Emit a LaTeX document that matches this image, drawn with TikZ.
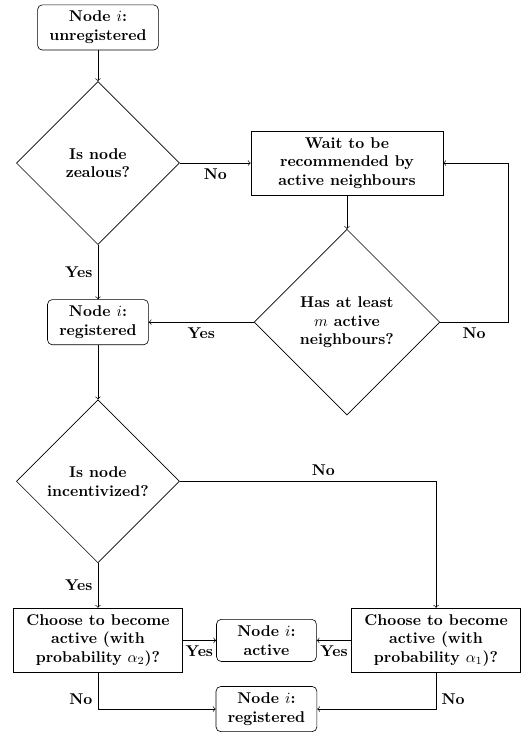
\documentclass[tikz,border=0pt]{standalone}
\usepackage{amsfonts,amsmath,amssymb}
\usetikzlibrary{arrows,shapes}

\begin{document}
\begin{tikzpicture}[node distance=102pt,font=\bfseries]

	\tikzstyle{status}=[rectangle,rounded corners=3pt,draw=black,align=center,minimum width=64pt,inner xsep=7.5pt,inner ysep=4pt]
	\tikzstyle{block}=[rectangle,draw=black,align=center,inner ysep=4pt]
	\tikzstyle{decision}=[diamond,draw=black,align=center,minimum width=104.5pt,minimum height=104.5pt,inner sep=1pt]
	\tikzstyle{line}=[draw,->]

	\useasboundingbox (-62.8pt,17.6pt) rectangle (274.4pt,-451.6pt);

	% left column
	\node [status] (unreg) {Node $i$:\\unregistered};
	\node [decision] (zealous) [below of=unreg,node distance=86.9pt] {Is node\\zealous?};
	\node [status] (reg) [below of=zealous] {Node $i$:\\registered};
	\node [decision] (incent) [below of=reg] {Is node\\incentivized?};
	\node [block,minimum width=108pt] (choose2) [below of=incent] {Choose to become\\active (with\\probability $\alpha_2$)?};

	% right column
	\node [block,minimum width=123pt] (wait) [right of=zealous,node distance=159.6pt] {Wait to be\\recommended by\\active neighbours};
	\node [decision,minimum width=119pt,minimum height=119pt] (atleast) [below of=wait] {Has at least\\$m$ active\\neighbours?};

	% bottom row
	\node [status] (active) [right of=choose2,node distance=108pt] {Node $i$:\\active};
	\node [block,minimum width=108pt] (choose1) [right of=active,node distance=108.7pt] {Choose to become\\active (with\\probability $\alpha_1$)?};
	\node [status] (reg2) [below of=active,node distance=44pt] {Node $i$:\\registered};

	\path [line] (unreg) -- (zealous);
	\path [line] (zealous) -- node [below] {No} (wait);
	\path [line] (zealous) -- node [left] {Yes} (reg);
	\path [line] (wait) -- (atleast);
	\path [line] (atleast) -- node [below] {Yes} (reg);
	\path [line] (atleast.east) -- node [below] {No} ++(43.6pt,0) |- (wait.east);
	\path [line] (reg) -- (incent);
	\path [line] (incent.east) -| node [above,pos=0.28] {No} (choose1.north);
	\path [line] (incent) -- node [left] {Yes} (choose2);
	\path [line] (choose2) -- node [below] {Yes} (active);
	\path [line] (choose1) -- node [below] {Yes} (active);
	\path [line] (choose2.south) |- node [left,pos=0.36] {No} (reg2.west);
	\path [line] (choose1.south) |- node [right,pos=0.36] {No} (reg2.east);

\end{tikzpicture}
\end{document}
